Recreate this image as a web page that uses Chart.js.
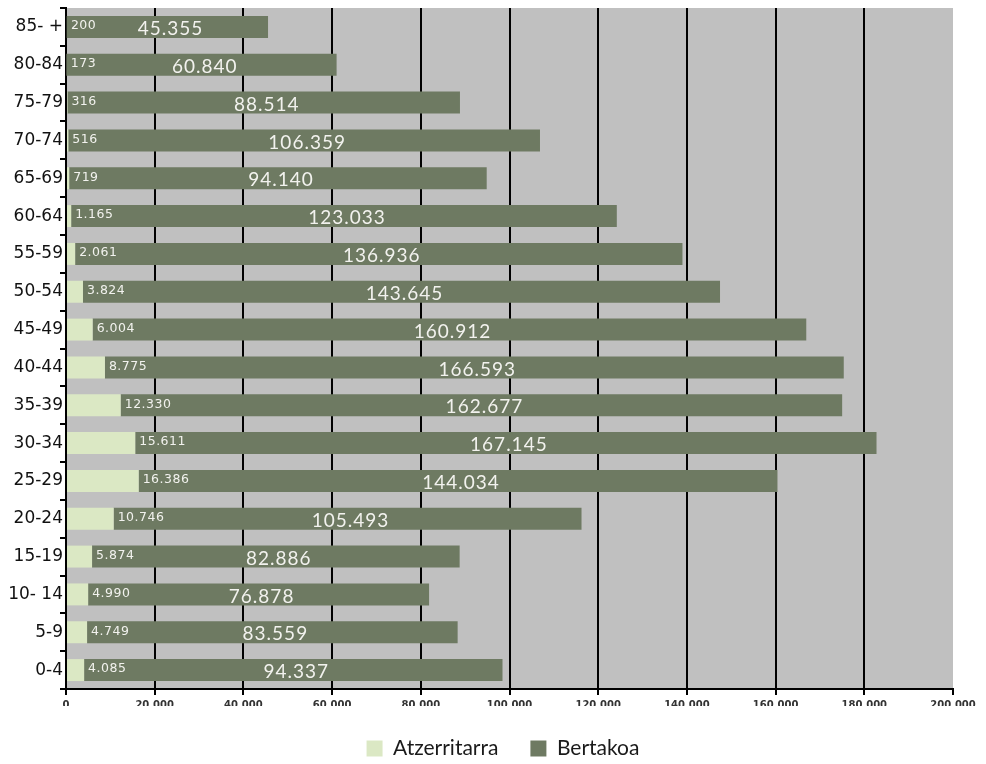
<!DOCTYPE html>
<html>
<head>
<meta charset="utf-8">
<script src="https://cdn.jsdelivr.net/npm/chart.js@4/dist/chart.umd.min.js"></script>
<style>
  html, body { margin: 0; padding: 0; background: #ffffff; }
  #wrap { width: 986px; height: 764px; }
</style>
</head>
<body>
<div id="wrap"><canvas id="c" width="986" height="764"></canvas></div>
<script>
const categories = ['0-4','5-9','10- 14','15-19','20-24','25-29','30-34','35-39','40-44','45-49','50-54','55-59','60-64','65-69','70-74','75-79','80-84','85- +'];
const atzerritarra = [4085,4749,4990,5874,10746,16386,15611,12330,8775,6004,3824,2061,1165,719,516,316,173,200];
const bertakoa = [94337,83559,76878,82886,105493,144034,167145,162677,166593,160912,143645,136936,123033,94140,106359,88514,60840,45355];
const seriesNames = ['Atzerritarra', 'Bertakoa'];
const xMax = 200000;
const xStep = 20000;

function fmt(n) {
  return String(n).replace(/\B(?=(\d{3})+(?!\d))/g, '.');
}

const bgPlugin = {
  id: 'plotBg',
  beforeDraw(chart) {
    const a = chart.chartArea, ctx = chart.ctx;
    ctx.save();
    ctx.fillStyle = '#c0c0c0';
    ctx.fillRect(a.left, a.top, a.right - a.left, a.bottom - a.top);
    ctx.restore();
  }
};

const labelPlugin = {
  id: 'barLabels',
  afterDatasetsDraw(chart) {
    const ctx = chart.ctx;
    const meta = chart.getDatasetMeta(1);
    ctx.save();
    ctx.fillStyle = '#f2f2ee';
    ctx.textBaseline = 'middle';
    meta.data.forEach((bar, i) => {
      const left = Math.min(bar.base, bar.x);
      const right = Math.max(bar.base, bar.x);
      ctx.letterSpacing = '0.5px';
      ctx.font = '12.5px "DejaVu Sans"';
      ctx.textAlign = 'left';
      ctx.fillText(fmt(atzerritarra[i]), left + 4, bar.y - 1);
      ctx.letterSpacing = '1px';
      ctx.font = '19px Lato';
      ctx.textAlign = 'center';
      ctx.fillText(fmt(bertakoa[i]), (left + right) / 2 + 3, bar.y + 2);
    });
    ctx.restore();
  }
};

new Chart(document.getElementById('c'), {
  type: 'bar',
  data: {
    labels: categories,
    datasets: [
      { label: seriesNames[0], data: atzerritarra, backgroundColor: '#dbe8c4', borderWidth: 0 },
      { label: seriesNames[1], data: bertakoa, backgroundColor: '#6e7a62', borderWidth: 0 }
    ]
  },
  options: {
    indexAxis: 'y',
    responsive: false,
    animation: false,
    devicePixelRatio: 1,
    datasets: { bar: { categoryPercentage: 1, barPercentage: 0.58 } },
    layout: { padding: { top: 8, right: -20, left: 0, bottom: -5 } },
    plugins: {
      tooltip: { enabled: false },
      legend: {
        position: 'bottom',
        labels: {
          boxWidth: 16, boxHeight: 16, padding: 32,
          color: '#1a1a1a',
          font: { family: 'Lato', size: 21 }
        }
      }
    },
    scales: {
      x: {
        stacked: true,
        min: 0, max: xMax,
        afterFit(s) { s.height = 17; s.paddingRight = 33; },
        border: { display: true, color: '#000', width: 2 },
        grid: {
          color: (c) => (c.tick && c.tick.value === xMax) ? 'rgba(0,0,0,0)' : '#000',
          tickColor: '#000',
          lineWidth: 2,
          tickLength: 6
        },
        ticks: {
          stepSize: xStep,
          maxRotation: 0,
          color: '#333',
          padding: 4,
          font: { family: 'DejaVu Sans', size: 10, weight: 'bold' },
          callback: (v) => fmt(v)
        }
      },
      y: {
        stacked: true,
        reverse: true,
        afterFit(s) { s.width = 66; },
        border: { display: true, color: '#000', width: 2 },
        grid: {
          drawOnChartArea: false,
          offset: true,
          color: '#000',
          lineWidth: 2,
          tickLength: 6
        },
        ticks: {
          color: '#111',
          padding: -3,
          font: { family: 'DejaVu Sans', size: 17 }
        }
      }
    }
  },
  plugins: [bgPlugin, labelPlugin]
});
</script>
</body>
</html>
